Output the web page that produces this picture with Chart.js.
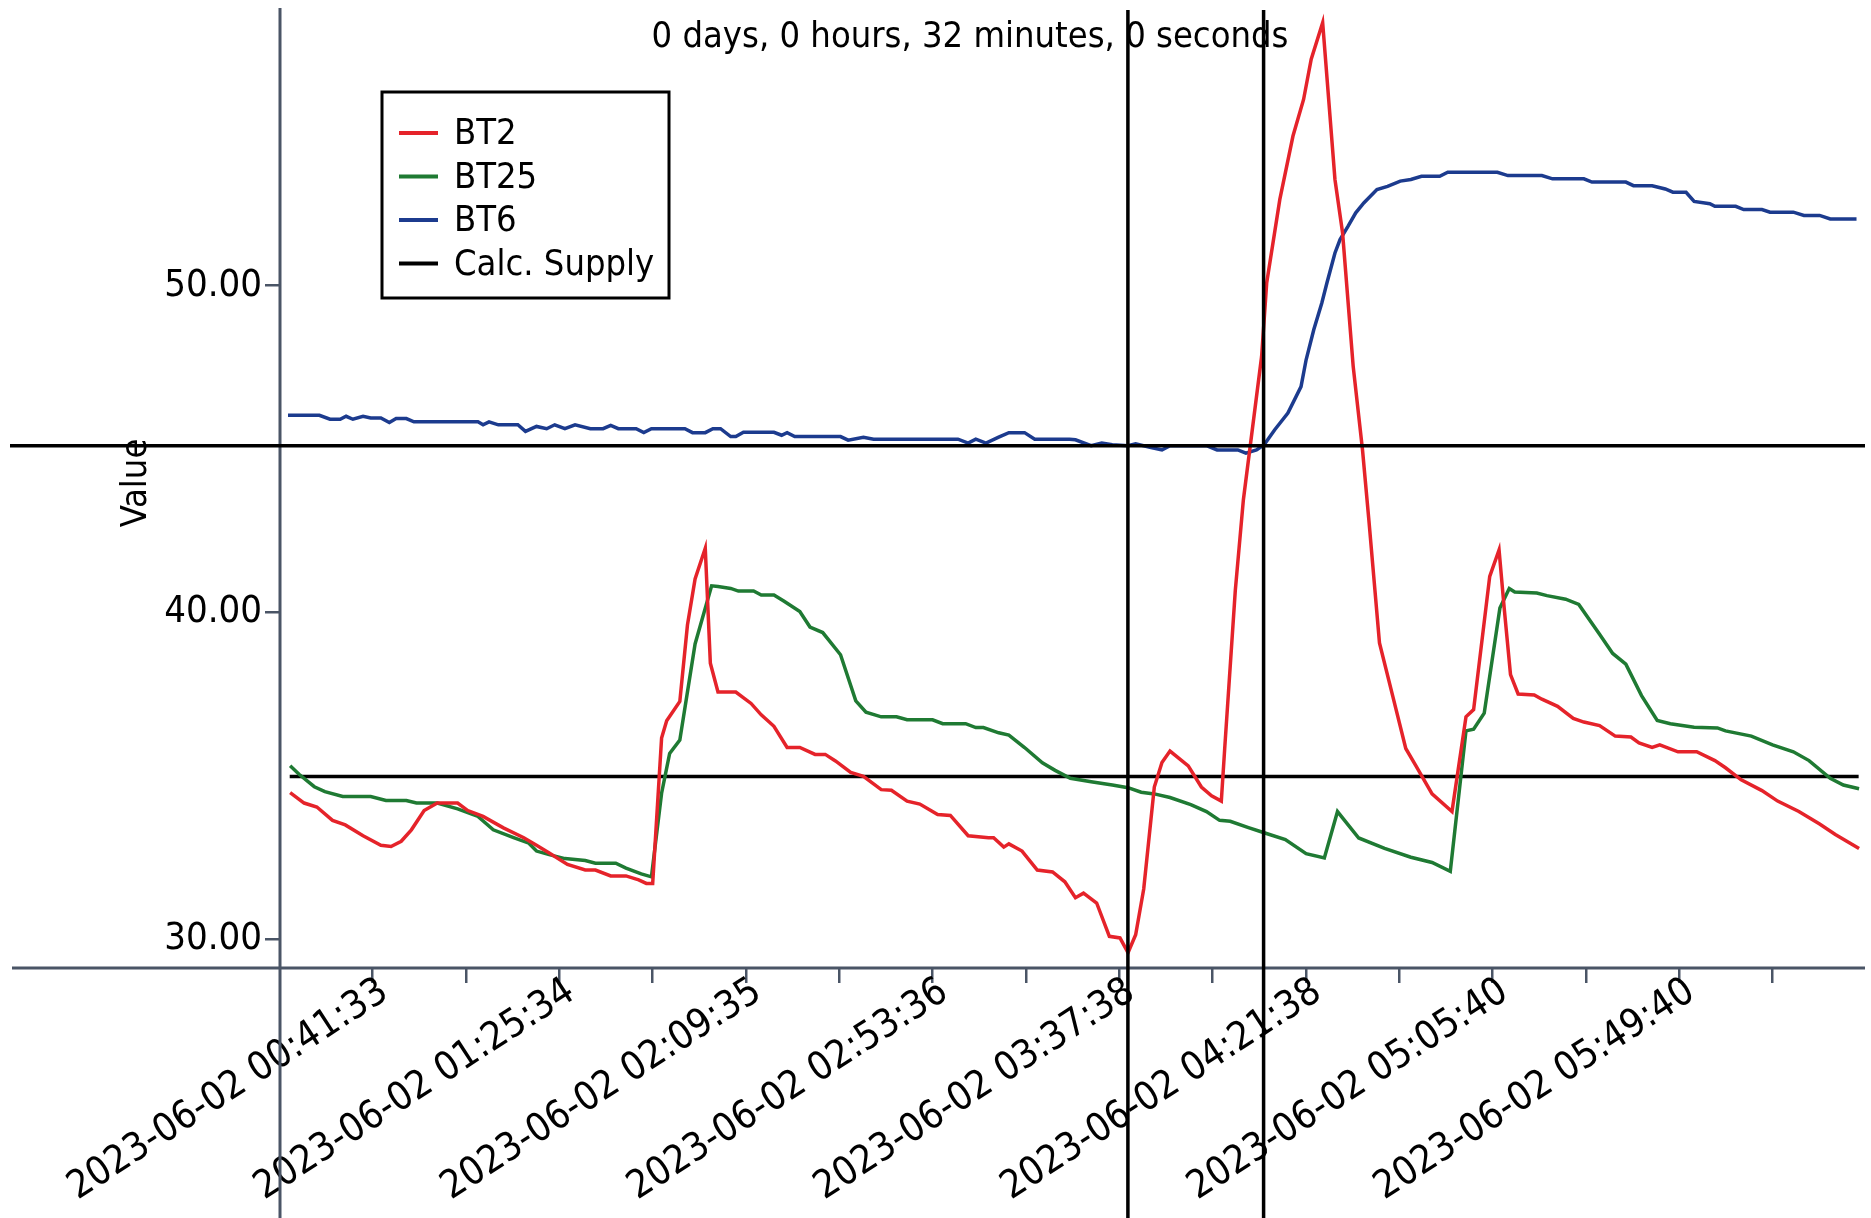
<!DOCTYPE html>
<html lang="en">
<head>
	<meta charset="UTF-8">
	<title>BT2 / BT25 / BT6</title>
	<script src="https://cdn.jsdelivr.net/npm/chart.js"></script>
	<style>
		html, body { margin: 0; padding: 0; background: #fff; }
		#wrap { width: 1871px; height: 1218px; }
	</style>
</head>
<body>
	<div id="wrap"><canvas id="chart"></canvas></div>
	<script>
		// time = minutes since 2023-06-02 00:00:00
		const bt2Time = [22.1, 25.4, 28.4, 32.1, 35.1, 39.3, 43.5, 45.9, 48.3, 50.7, 53.7, 56.8, 61.6, 64.0, 67.6, 72.4, 77.2, 80.2, 83.2, 87.5,
			91.7, 94.1, 97.7, 101.3, 104.3, 106.1, 107.6, 109.7, 110.9, 114.0, 115.8, 117.6, 120.0, 121.2, 123.0, 127.2, 130.8, 133.2, 136.2, 139.3,
			142.3, 145.9, 148.3, 150.7, 154.3, 157.3, 161.5, 163.9, 167.6, 170.6, 174.8, 177.8, 182.0, 186.8, 188.0, 190.4, 191.6, 194.7, 198.3, 201.9,
			204.8, 207.3, 209.2, 212.3, 215.3, 217.8, 219.7, 221.5, 223.4, 225.9, 227.7, 229.6, 233.9, 237.0, 239.4, 241.7, 242.5, 245.0, 246.9, 251.2,
			252.4, 255.5, 258.6, 261.1, 262.9, 265.6, 268.5, 270.3, 272.8, 275.0, 276.5, 279.0, 282.1, 285.2, 287.6, 291.4, 296.1, 299.4, 301.2, 305.0,
			307.2, 308.4, 309.9, 311.7, 315.5, 317.3, 321.0, 324.7, 327.2, 330.9, 334.6, 338.3, 340.2, 343.3, 345.1, 349.4, 353.8, 358.1, 360.6, 364.3,
			369.2, 372.9, 377.9, 382.8, 386.5, 392.1];
		const bt2Values = [34.48, 34.16, 34.04, 33.63, 33.49, 33.16, 32.87, 32.83, 32.99, 33.34, 33.93, 34.16, 34.16, 33.93, 33.75, 33.40, 33.10, 32.87, 32.63, 32.28,
			32.11, 32.11, 31.93, 31.93, 31.81, 31.70, 31.70, 36.15, 36.68, 37.27, 39.61, 41.02, 41.96, 38.44, 37.56, 37.56, 37.21, 36.86, 36.51, 35.86,
			35.86, 35.65, 35.65, 35.45, 35.10, 34.98, 34.57, 34.55, 34.22, 34.13, 33.81, 33.78, 33.16, 33.10, 33.10, 32.81, 32.91, 32.69, 32.11, 32.05,
			31.75, 31.26, 31.40, 31.10, 30.08, 30.03, 29.58, 30.13, 31.53, 34.65, 35.40, 35.75, 35.30, 34.65, 34.38, 34.22, 35.83, 40.67, 43.44, 47.83,
			50.08, 52.64, 54.58, 55.70, 56.93, 58.05, 53.25, 51.61, 47.53, 44.97, 42.82, 39.06, 37.45, 35.83, 35.30, 34.44, 33.90, 36.80, 37.02, 41.10,
			41.91, 40.14, 38.09, 37.50, 37.47, 37.34, 37.12, 36.75, 36.64, 36.53, 36.21, 36.18, 36.00, 35.86, 35.94, 35.73, 35.73, 35.46, 35.24, 34.87,
			34.54, 34.22, 33.90, 33.52, 33.20, 32.77];

		const bt25Time = [22.1, 24.2, 27.8, 30.3, 34.5, 41.1, 44.7, 49.5, 51.9, 56.8, 61.6, 66.4, 70.0, 74.8, 78.4, 80.2, 83.2, 86.9, 91.7, 94.1,
			98.9, 101.3, 104.9, 107.3, 109.7, 111.6, 114.0, 117.6, 121.5, 123.0, 126.0, 127.8, 131.4, 133.2, 136.2, 138.6, 142.3, 144.7, 147.7, 151.9,
			155.5, 157.9, 161.5, 165.1, 167.6, 173.6, 176.0, 181.4, 183.8, 185.6, 189.2, 191.6, 195.3, 199.5, 202.5, 206.1, 211.0, 216.0, 219.7, 222.8,
			225.9, 229.6, 234.5, 238.2, 241.3, 243.8, 248.1, 251.8, 256.8, 261.7, 266.0, 269.1, 274.1, 280.2, 286.4, 291.4, 295.7, 299.4, 301.2, 303.7,
			307.4, 309.6, 310.9, 316.1, 318.5, 322.9, 326.0, 330.9, 334.0, 337.1, 340.8, 344.5, 347.6, 353.2, 358.7, 360.6, 366.7, 371.7, 376.6, 380.3,
			385.3, 388.4, 392.1];
		const bt25Values = [35.30, 35.04, 34.66, 34.51, 34.36, 34.36, 34.24, 34.24, 34.16, 34.16, 33.98, 33.75, 33.34, 33.10, 32.93, 32.69, 32.58, 32.46, 32.40, 32.32,
			32.32, 32.17, 31.99, 31.90, 34.46, 35.68, 36.09, 39.03, 40.81, 40.79, 40.73, 40.65, 40.65, 40.53, 40.53, 40.34, 40.02, 39.55, 39.38, 38.70,
			37.29, 36.94, 36.80, 36.80, 36.71, 36.71, 36.59, 36.59, 36.47, 36.47, 36.31, 36.24, 35.86, 35.39, 35.16, 34.92, 34.81, 34.71, 34.63, 34.49,
			34.44, 34.33, 34.11, 33.90, 33.63, 33.60, 33.41, 33.25, 33.04, 32.61, 32.48, 33.90, 33.09, 32.77, 32.50, 32.34, 32.07, 36.37, 36.42, 36.91,
			40.13, 40.73, 40.62, 40.59, 40.51, 40.40, 40.24, 39.33, 38.74, 38.41, 37.45, 36.69, 36.59, 36.48, 36.46, 36.37, 36.21, 35.94, 35.73, 35.46,
			34.92, 34.71, 34.60];

		const bt6Time = [21.6, 29.0, 31.5, 33.9, 35.3, 36.9, 39.3, 41.1, 43.5, 45.5, 47.1, 49.5, 51.3, 66.4, 67.6, 69.0, 71.2, 75.8, 77.6, 80.2,
			82.6, 84.5, 86.9, 89.3, 92.9, 95.9, 97.7, 99.5, 103.7, 105.5, 107.3, 115.2, 117.0, 120.0, 121.8, 123.6, 126.0, 127.2, 129.0, 136.2,
			138.0, 139.3, 141.1, 151.9, 153.7, 157.3, 159.7, 179.6, 182.0, 183.8, 186.2, 189.2, 191.6, 195.3, 197.7, 205.9, 207.3, 211.0, 213.5, 216.0,
			219.7, 221.5, 224.6, 227.7, 229.6, 238.2, 240.7, 245.6, 247.5, 250.0, 251.8, 254.3, 257.4, 260.5, 261.7, 263.5, 265.4, 266.6, 268.5, 269.7,
			271.6, 273.4, 275.3, 278.4, 280.9, 283.9, 286.4, 288.9, 293.2, 295.1, 306.8, 309.3, 317.3, 319.8, 327.2, 329.1, 337.1, 338.9, 343.3, 346.4,
			348.2, 351.3, 353.2, 356.9, 358.1, 363.0, 364.9, 369.2, 371.1, 376.6, 379.1, 382.8, 385.3, 391.5];
		const bt6Values = [46.03, 46.03, 45.91, 45.91, 46.00, 45.91, 46.00, 45.95, 45.95, 45.81, 45.93, 45.93, 45.83, 45.83, 45.74, 45.83, 45.74, 45.74, 45.54, 45.69,
			45.62, 45.74, 45.62, 45.74, 45.62, 45.62, 45.72, 45.62, 45.62, 45.50, 45.62, 45.62, 45.50, 45.50, 45.62, 45.62, 45.38, 45.38, 45.51, 45.51,
			45.42, 45.50, 45.38, 45.38, 45.27, 45.36, 45.30, 45.30, 45.18, 45.30, 45.18, 45.36, 45.50, 45.50, 45.30, 45.30, 45.28, 45.10, 45.18, 45.13,
			45.10, 45.16, 45.06, 44.97, 45.10, 45.10, 44.97, 44.97, 44.87, 44.97, 45.13, 45.59, 46.10, 46.91, 47.73, 48.65, 49.47, 50.08, 51.00, 51.41,
			51.82, 52.23, 52.53, 52.94, 53.04, 53.20, 53.25, 53.35, 53.35, 53.47, 53.47, 53.37, 53.37, 53.27, 53.27, 53.17, 53.17, 53.06, 53.06, 52.96,
			52.86, 52.86, 52.58, 52.51, 52.43, 52.43, 52.33, 52.33, 52.25, 52.25, 52.15, 52.15, 52.04, 52.04];

		const supplyTime = [22.0, 392.0];
		const supplyValues = [34.97, 34.97];

		const tickLabels = ['2023-06-02 00:41:33', '2023-06-02 01:25:34', '2023-06-02 02:09:35', '2023-06-02 02:53:36',
			'2023-06-02 03:37:38', '2023-06-02 04:21:38', '2023-06-02 05:05:40', '2023-06-02 05:49:40'];
		const yTicks = [30, 40, 50];

		// cursors: two time markers 32 minutes apart and one value marker
		const cursorTimes = [219.67, 251.67];
		const cursorValue = 45.10;
		const cursorText = '0 days, 0 hours, 32 minutes, 0 seconds';

		const FONT = '"DejaVu Sans Condensed", "DejaVu Sans", sans-serif';
		const AXIS = '#4a5566';

		function toMinutes(label){
			const p = label.split(' ')[1].split(':').map(Number);
			return p[0] * 60 + p[1] + p[2] / 60;
		}
		const labelTimes = tickLabels.map(toMinutes);
		const tickTimes = [];
		labelTimes.forEach((t, i) => {
			tickTimes.push(t);
			const next = i < labelTimes.length - 1 ? labelTimes[i + 1] : t + (t - labelTimes[i - 1]);
			tickTimes.push((t + next) / 2);
		});

		function pts(times, values){
			return times.map((t, i) => ({x: t, y: values[i]}));
		}

		// no extra room for the labels at the ends of the axes
		function noPad(s){
			s.paddingTop = 0;
			s.paddingBottom = 0;
			s.paddingLeft = 0;
			s.paddingRight = 0;
		}

		const overlay = {
			id: 'overlay',
			afterDraw(chart){
				const ctx = chart.ctx;
				const a = chart.chartArea;
				const xs = chart.scales.x, ys = chart.scales.y;
				ctx.save();

				// axis lines, running past the plot like in the original
				ctx.strokeStyle = AXIS;
				ctx.lineWidth = 3;
				ctx.beginPath();
				ctx.moveTo(a.left, a.top);
				ctx.lineTo(a.left, chart.height);
				ctx.moveTo(12, a.bottom);
				ctx.lineTo(a.right, a.bottom);
				ctx.stroke();

				// cursors
				ctx.strokeStyle = '#000';
				ctx.lineWidth = 3.5;
				ctx.beginPath();
				cursorTimes.forEach(t => {
					const px = xs.getPixelForValue(t);
					ctx.moveTo(px, a.top + 2);
					ctx.lineTo(px, chart.height);
				});
				const py = ys.getPixelForValue(cursorValue);
				ctx.moveTo(10, py);
				ctx.lineTo(a.right, py);
				ctx.stroke();

				ctx.fillStyle = '#000';
				ctx.textBaseline = 'middle';
				ctx.font = '36px ' + FONT;
				ctx.textAlign = 'center';
				ctx.fillText(cursorText, 970, 38);

				// axis title
				ctx.save();
				ctx.translate(137, 483);
				ctx.rotate(-Math.PI / 2);
				ctx.fillText('Value', 0, 0);
				ctx.restore();

				// legend box
				ctx.fillStyle = '#fff';
				ctx.fillRect(382, 92, 287, 206);
				ctx.lineWidth = 3;
				ctx.strokeRect(382, 92, 287, 206);
				ctx.textAlign = 'left';
				chart.data.datasets.forEach((ds, i) => {
					const ly = 133 + i * 43.5;
					ctx.strokeStyle = ds.borderColor;
					ctx.lineWidth = 4;
					ctx.beginPath();
					ctx.moveTo(399, ly);
					ctx.lineTo(438, ly);
					ctx.stroke();
					ctx.fillStyle = '#000';
					ctx.fillText(ds.label, 454, ly + 2);
				});
				ctx.restore();
			}
		};

		Chart.defaults.font.family = FONT;

		new Chart(document.getElementById('chart'), {
			type: 'line',
			data: {
				datasets: [
					{label: 'BT2', data: pts(bt2Time, bt2Values), borderColor: '#e5232a'},
					{label: 'BT25', data: pts(bt25Time, bt25Values), borderColor: '#1f7a33'},
					{label: 'BT6', data: pts(bt6Time, bt6Values), borderColor: '#1c3b8e'},
					{label: 'Calc. Supply', data: pts(supplyTime, supplyValues), borderColor: '#000'}
				]
			},
			options: {
				responsive: true,
				maintainAspectRatio: false,
				animation: false,
				layout: {padding: {top: 8, right: 6, left: 0, bottom: 0}},
				elements: {
					point: {radius: 0},
					line: {borderWidth: 3.5, tension: 0}
				},
				plugins: {
					legend: {display: false},
					title: {display: false},
					tooltip: {enabled: false}
				},
				scales: {
					x: {
						type: 'linear',
						min: 19.71,
						max: 393.5,
						afterFit(s){ s.height = 250; noPad(s); },
						afterBuildTicks(s){ s.ticks = tickTimes.map(v => ({value: v})); },
						border: {display: false},
						grid: {drawOnChartArea: false, tickLength: 15, color: AXIS, lineWidth: 2.5},
						ticks: {
							autoSkip: false,
							minRotation: 33,
							maxRotation: 33,
							padding: -14,
							labelOffset: 12,
							color: '#000',
							font: {size: 39},
							callback(v){
								const i = labelTimes.findIndex(t => Math.abs(t - v) < 0.01);
								return i < 0 ? '' : tickLabels[i];
							}
						}
					},
					y: {
						min: 29.11,
						max: 58.5,
						afterFit(s){ s.width = 280; noPad(s); },
						afterBuildTicks(s){ s.ticks = yTicks.map(v => ({value: v})); },
						border: {display: false},
						grid: {drawOnChartArea: false, tickLength: 15, color: AXIS, lineWidth: 2.5},
						ticks: {
							padding: 3,
							color: '#000',
							font: {size: 38},
							callback: v => v.toFixed(2)
						}
					}
				}
			},
			plugins: [overlay]
		});
	</script>
</body>
</html>
